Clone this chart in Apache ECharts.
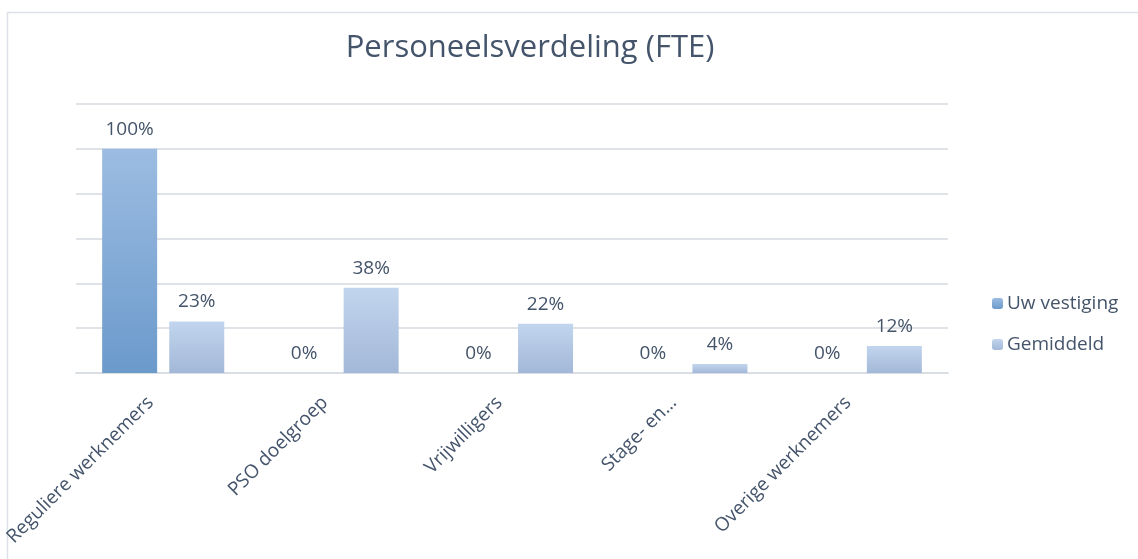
<!DOCTYPE html>
<html>
<head>
<meta charset="utf-8">
<script src="https://cdn.jsdelivr.net/npm/echarts@6/dist/echarts.min.js"></script>
<style>
  html, body { margin: 0; padding: 0; background: #fff; }
  #chart { width: 1138px; height: 559px; }
</style>
</head>
<body>
<div id="chart"></div>
<script>
// data
const categories = ['Reguliere werknemers', 'PSO doelgroep', 'Vrijwilligers', 'Stage- en\u2026', 'Overige werknemers'];
const uwVestiging = [100, 0, 0, 0, 0];
const gemiddeld = [23, 38, 22, 4, 12];
const seriesNames = ['Uw vestiging', 'Gemiddeld'];

var textColor = '#44546a';
var fontName = 'Open Sans';

var chartDom = document.getElementById('chart');
var myChart = echarts.init(chartDom);

function grad(top, bottom) {
    return new echarts.graphic.LinearGradient(0, 0, 0, 1, [
        { offset: 0, color: top },
        { offset: 1, color: bottom }
    ]);
}

var option = {
    animation: false,
    textStyle: { fontFamily: fontName, color: textColor },
    // thin frame round the chart area, as in the picture
    graphic: [{
        type: 'rect',
        shape: { x: 7.5, y: 12.5, width: 1200, height: 600 },
        style: { fill: 'none', stroke: '#dde1e7', lineWidth: 1.5 },
        silent: true
    }],
    title: {
        text: 'Personeelsverdeling (FTE)',
        left: 525,
        top: 28,
        textAlign: 'center',
        textStyle: { fontFamily: fontName, fontSize: 31, fontWeight: 'normal', color: textColor }
    },
    legend: {
        orient: 'vertical',
        left: 987,
        top: 289,
        itemWidth: 11,
        itemHeight: 11,
        itemGap: 22,
        data: seriesNames,
        textStyle: { fontFamily: fontName, fontSize: 19, color: textColor, padding: [0, 0, 0, -1] }
    },
    grid: {
        left: 76,
        right: 190,
        top: 104,
        bottom: 186,
        containLabel: false
    },
    xAxis: {
        type: 'category',
        data: categories,
        axisLine: { show: true, lineStyle: { color: '#d9dde4', width: 2 } },
        axisTick: { show: false },
        axisLabel: {
            interval: 0,
            rotate: 45,
            margin: 14,
            padding: [0, 18, 0, 0],
            fontFamily: fontName,
            fontSize: 19,
            color: textColor
        }
    },
    yAxis: {
        type: 'value',
        min: 0,
        max: 120,
        interval: 20,
        axisLabel: { show: false },
        axisLine: { show: false },
        axisTick: { show: false },
        splitLine: { lineStyle: { color: '#dfe3e8', width: 2 } }
    },
    series: [
        {
            name: seriesNames[0],
            type: 'bar',
            data: uwVestiging,
            barWidth: 55,
            barGap: '22%',
            itemStyle: { color: grad('#9cbce2', '#6b9acb') },
            label: {
                show: true,
                position: 'top',
                distance: 10,
                formatter: '{c}%',
                fontFamily: fontName,
                fontSize: 19,
                color: textColor
            }
        },
        {
            name: seriesNames[1],
            type: 'bar',
            data: gemiddeld,
            barWidth: 55,
            itemStyle: { color: grad('#c2d5ee', '#a3b8d8') },
            label: {
                show: true,
                position: 'top',
                distance: 10,
                formatter: '{c}%',
                fontFamily: fontName,
                fontSize: 19,
                color: textColor
            }
        }
    ]
};

myChart.setOption(option);
</script>
</body>
</html>
